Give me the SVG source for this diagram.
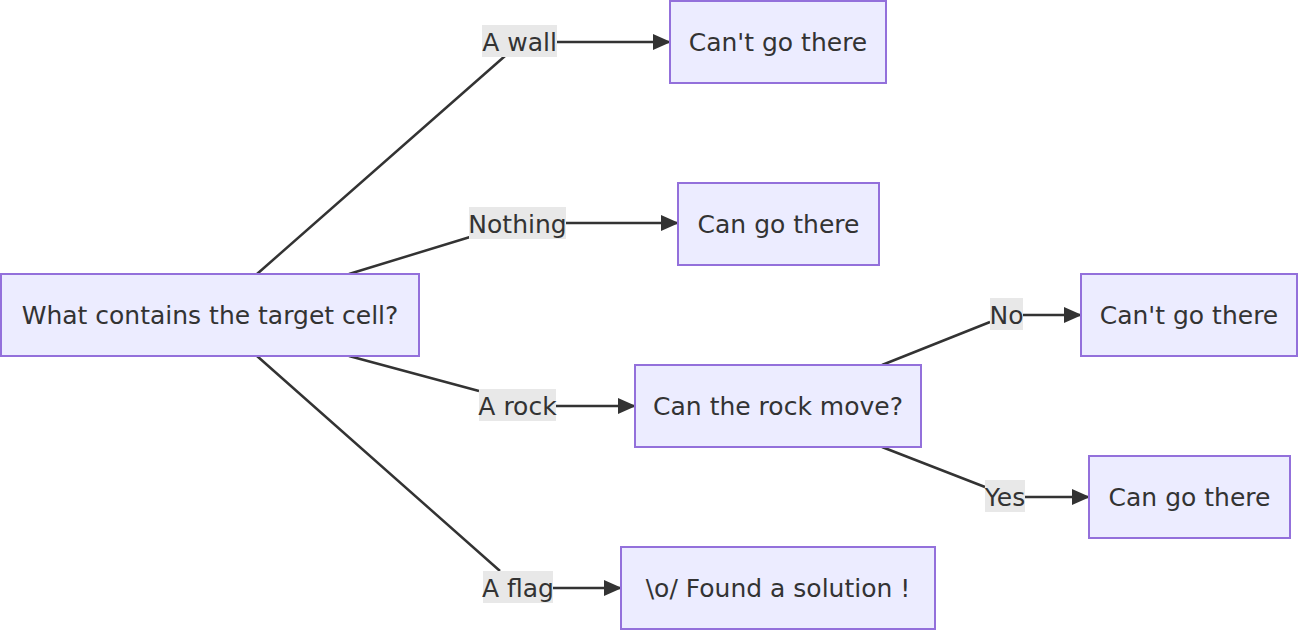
<svg xmlns="http://www.w3.org/2000/svg" width="1298" height="630" viewBox="0 0 1298 630">
<style>
.node rect{fill:#ECECFF;stroke:#9370DB;stroke-width:2}
text{font-family:"DejaVu Sans",sans-serif;font-size:25px;fill:#333;text-anchor:middle;dominant-baseline:central}
.lbl rect{fill:#e8e8e8}
.edge{fill:none;stroke:#333;stroke-width:2.5}
</style>
<defs>
<marker id="ah" viewBox="0 0 18 16" refX="17" refY="8" markerWidth="18" markerHeight="16" markerUnits="userSpaceOnUse" orient="auto">
<path d="M0,0 L18,8 L0,16 z" fill="#333"/>
</marker>
</defs>
<g id="connectors">
<path class="edge" d="M257,274 L505,56 M557,42 L670,42" marker-end="url(#ah)"/>
<path class="edge" d="M349,274 L470,237 M566,223 L678,223" marker-end="url(#ah)"/>
<path class="edge" d="M349,356 L479,391 M556,406 L635,406" marker-end="url(#ah)"/>
<path class="edge" d="M257,356 L500,571 M553,588 L621,588" marker-end="url(#ah)"/>
<path class="edge" d="M882,365 L990,322 M1023,315 L1081,315" marker-end="url(#ah)"/>
<path class="edge" d="M882,447 L985,487 M1025,497 L1089,497" marker-end="url(#ah)"/>
</g>
<g id="edge-labels">
<g class="lbl"><rect x="482" y="25" width="75" height="32"/><text x="519.5" y="42">A wall</text></g>
<g class="lbl"><rect x="469" y="207" width="97" height="32"/><text x="517.5" y="224">Nothing</text></g>
<g class="lbl"><rect x="479" y="389" width="77" height="32"/><text x="517.5" y="406">A rock</text></g>
<g class="lbl"><rect x="483" y="571" width="70" height="32"/><text x="518" y="588">A flag</text></g>
<g class="lbl"><rect x="990" y="298" width="33" height="32"/><text x="1006.5" y="315">No</text></g>
<g class="lbl"><rect x="985" y="480" width="40" height="32"/><text x="1005" y="497">Yes</text></g>
</g>
<g id="n-start" class="node"><rect x="1" y="274" width="418" height="82"/><text x="210" y="315">What contains the target cell?</text></g>
<g id="n-wall" class="node"><rect x="670" y="1" width="216" height="82"/><text x="778" y="42">Can't go there</text></g>
<g id="n-nothing" class="node"><rect x="678" y="183" width="201" height="82"/><text x="778.5" y="224">Can go there</text></g>
<g id="n-rock" class="node"><rect x="635" y="365" width="286" height="82"/><text x="778" y="406">Can the rock move?</text></g>
<g id="n-no" class="node"><rect x="1081" y="274" width="216" height="82"/><text x="1189" y="315">Can't go there</text></g>
<g id="n-yes" class="node"><rect x="1089" y="456" width="201" height="82"/><text x="1189.5" y="497">Can go there</text></g>
<g id="n-flag" class="node"><rect x="621" y="547" width="314" height="82"/><text x="778" y="588">\o/ Found a solution !</text></g>
</svg>
